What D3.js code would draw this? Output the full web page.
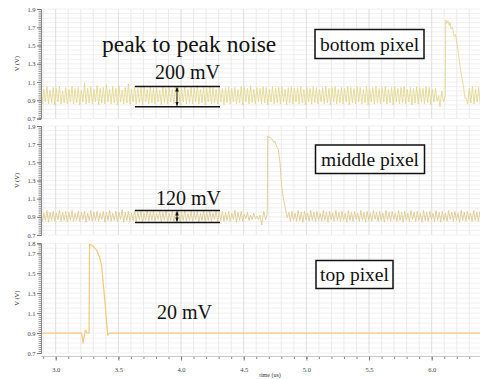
<!DOCTYPE html>
<html>
<head>
<meta charset="utf-8">
<script src="https://cdn.jsdelivr.net/npm/d3@7"></script>
<style>
  body { margin: 0; background: #fff; }
  svg { display: block; }
  .tick text { font-family: "Liberation Serif", "Times New Roman", "DejaVu Serif", serif; fill: #444; }
  .note { font-family: "Liberation Serif", "Times New Roman", "DejaVu Serif", serif; font-size: 20px; fill: #111; }
  .small { font-family: "Liberation Serif", "Times New Roman", "DejaVu Serif", serif; fill: #333; }
</style>
</head>
<body>
<svg id="chart" width="480" height="379"></svg>
<script>
// sample spacing of the noisy traces (us)
const sampleStep = 0.0125;

// bottom pixel: noise before the pulse, from t = 2.88
const bottomNoiseStart = 2.88;
const bottomNoise = [
  1.04,0.86,1.02,0.88,1.05,0.86,1.01,0.87,1.04,0.85,1.03,0.88,1.05,0.86,1.00,0.87,1.04,0.86,1.02,0.88,
  1.05,0.86,1.03,0.87,1.04,0.85,1.01,0.88,1.09,0.86,1.03,0.87,1.05,0.86,1.02,0.88,1.06,0.85,1.03,0.87,
  1.04,0.86,1.07,0.88,1.02,0.86,1.05,0.87,1.03,0.85,1.06,0.88,1.01,0.86,1.04,0.87,1.08,0.86,1.02,0.88,
  1.05,0.86,1.03,0.87,1.04,0.85,1.06,0.88,1.02,0.86,1.05,0.87,1.03,0.86,1.04,0.88,1.01,0.85,1.05,0.87,
  1.03,0.86,1.04,0.88,1.02,0.86,1.05,0.87,1.04,0.85,1.03,0.88,1.05,0.86,1.02,0.87,1.04,0.86,1.03,0.88,
  1.06,0.86,1.02,0.87,1.04,0.85,1.03,0.88,1.05,0.86,1.04,0.87,1.02,0.86,1.05,0.88,1.03,0.85,1.04,0.87,
  1.05,0.86,1.03,0.88,1.04,0.86,1.02,0.87,1.05,0.85,1.04,0.88,1.03,0.86,1.06,0.87,1.02,0.86,1.04,0.88,
  1.03,0.86,1.05,0.87,1.04,0.85,1.02,0.88,1.05,0.86,1.03,0.87,1.04,0.86,1.05,0.88,1.02,0.85,1.04,0.87,
  1.05,0.86,1.03,0.88,1.04,0.86,1.05,0.87,1.02,0.85,1.04,0.88,1.03,0.86,1.05,0.87,1.04,0.86,1.02,0.88,
  1.04,0.86,1.05,0.87,1.03,0.85,1.04,0.88,1.05,0.86,1.02,0.87,1.04,0.86,1.03,0.88,1.05,0.85,1.04,0.87,
  1.03,0.86,1.05,0.88,1.04,0.86,1.02,0.87,1.05,0.85,1.03,0.88,1.04,0.86,1.05,0.87,1.03,0.86,1.04,0.88,
  1.05,0.86,1.02,0.87,1.04,0.85,1.05,0.88,1.03,0.86,1.04,0.87,1.05,0.86,1.02,0.88,1.04,0.85,1.03,0.87,
  1.05,0.86,1.04,0.88,1.03,0.86,1.05,0.87,1.04,0.85,1.02,0.88,1.03,0.89,0.95
];
// bottom pixel: the pulse
const bottomPulseT = [6.066,6.08,6.095,6.108,6.112,6.12,6.13,6.14,6.146,6.155,6.165,6.172,6.18,6.19,6.2,6.21,6.226,6.24,6.252,6.266];
const bottomPulseV = [0.83,1.00,0.88,0.95,1.78,1.74,1.77,1.72,1.75,1.68,1.70,1.66,1.60,1.62,1.53,1.45,1.28,1.15,1.06,0.92];
// bottom pixel: noise after the pulse
const bottomTailStart = 6.275;
const bottomTail = [0.92,0.86,1.03,0.87,1.05,0.86,1.02,0.88,1.04,0.86,1.03];

// middle pixel
const middleNoiseStart = 2.88;
const middleNoise = [
  0.96,0.85,0.94,0.86,0.97,0.84,0.95,0.86,0.96,0.85,0.94,0.87,0.97,0.85,0.95,0.86,0.96,0.84,0.95,0.86,
  0.97,0.85,0.94,0.86,0.96,0.85,0.95,0.87,0.96,0.84,0.94,0.86,0.97,0.85,0.95,0.86,0.96,0.85,0.94,0.87,
  0.96,0.84,0.95,0.86,0.97,0.85,0.94,0.86,0.96,0.85,0.95,0.87,0.98,0.84,0.95,0.86,0.96,0.85,0.94,0.86,
  0.97,0.85,0.95,0.87,0.96,0.84,0.94,0.86,0.97,0.85,0.95,0.86,0.96,0.85,0.94,0.87,0.96,0.84,0.95,0.86,
  0.97,0.85,0.94,0.86,0.96,0.85,0.95,0.87,0.96,0.84,0.95,0.86,0.97,0.85,0.94,0.86,0.96,0.85,0.95,0.87,
  0.96,0.84,0.94,0.86,0.97,0.85,0.95,0.86,0.96,0.85,0.94,0.87,0.97,0.84,0.95,0.86,0.96,0.85,0.95,0.86,
  0.96,0.85,0.94,0.87,0.97,0.84,0.95,0.86,0.96,0.85,0.93,0.88,0.95,0.86,0.92,0.87,0.94,0.88,0.91,0.87,
  0.92
];
const middlePulseT = [4.644,4.66,4.675,4.688,4.692,4.70,4.71,4.718,4.73,4.74,4.75,4.76,4.776,4.79,4.803,4.815,4.83,4.848];
const middlePulseV = [0.81,0.96,0.87,0.93,1.79,1.77,1.78,1.76,1.75,1.72,1.73,1.68,1.64,1.49,1.23,1.12,1.01,0.89];
const middleTailStart = 4.86;
const middleTail = [
  0.95,0.85,0.96,0.86,0.94,0.85,0.97,0.86,0.95,0.84,0.96,0.87,0.94,0.85,0.97,0.86,0.95,0.85,0.96,0.86,
  0.94,0.85,0.97,0.86,0.95,0.84,0.96,0.87,0.94,0.85,0.97,0.86,0.95,0.85,0.96,0.86,0.94,0.84,0.97,0.86,
  0.95,0.85,0.96,0.87,0.94,0.85,0.97,0.86,0.95,0.84,0.96,0.86,0.94,0.85,0.97,0.87,0.95,0.85,0.96,0.86,
  0.94,0.84,0.97,0.86,0.95,0.85,0.96,0.87,0.94,0.85,0.97,0.86,0.95,0.84,0.96,0.86,0.94,0.85,0.97,0.87,
  0.95,0.85,0.96,0.86,0.94,0.84,0.97,0.86,0.95,0.85,0.96,0.87,0.94,0.85,0.97,0.86,0.95,0.84,0.96,0.86,
  0.94,0.85,0.97,0.87,0.95,0.85,0.96,0.86,0.94,0.84,0.97,0.86,0.95,0.85,0.96,0.87,0.94,0.85,0.97,0.86,
  0.95,0.85,0.96,0.86
];

// top pixel: almost flat trace
const topT = [2.88,3.207,3.218,3.236,3.252,3.266,3.270,3.30,3.327,3.353,3.367,3.39,3.415,3.43,6.40];
const topV = [0.90,0.90,0.80,0.93,0.90,0.90,1.79,1.77,1.73,1.65,1.57,1.25,0.88,0.90,0.90];

// axis ticks
const xMajorTicks = [3.0,3.5,4.0,4.5,5.0,5.5,6.0];
const yTicksTall = [0.7,0.9,1.1,1.3,1.5,1.7,1.9];
const yTicksShort = [0.7,0.9,1.1,1.3,1.5,1.7,1.8];

// annotation values (V)
const bottomMarks = [1.05, 0.83];
const middleMarks = [0.97, 0.838];

function samples(start, values) {
  return values.map((v, i) => ({t: start + i * sampleStep, v: v}));
}
function pairs(ts, vs) {
  return ts.map((t, i) => ({t: t, v: vs[i]}));
}

const panels = [
  {top: 9, bottom: 118.5, yMax: 1.9, ticks: yTicksTall, color: "#e2d890", width: 0.9,
   data: samples(bottomNoiseStart, bottomNoise).concat(pairs(bottomPulseT, bottomPulseV), samples(bottomTailStart, bottomTail))},
  {top: 126, bottom: 235, yMax: 1.9, ticks: yTicksTall, color: "#dfcb92", width: 0.9,
   data: samples(middleNoiseStart, middleNoise).concat(pairs(middlePulseT, middlePulseV), samples(middleTailStart, middleTail))},
  {top: 243.3, bottom: 353, yMax: 1.8, ticks: yTicksShort, color: "#f3c97c", width: 1.2,
   data: pairs(topT, topV)}
];

const svg = d3.select("#chart");
const left = 41, right = 480;
const x = d3.scaleLinear().domain([3, 6]).range([55.7, 431.7]);
const xMinor = d3.range(29, 64).map(d => d / 10);

panels.forEach((p, k) => {
  p.y = d3.scaleLinear().domain([0.7, p.yMax]).range([p.bottom, p.top]);
  const g = svg.append("g");

  // grid
  const hLines = d3.range(14, Math.round(p.yMax * 20) + 1).map(d => d / 20);
  g.selectAll(".hg").data(hLines).enter().append("line")
    .attr("x1", left).attr("x2", right)
    .attr("y1", d => p.y(d)).attr("y2", d => p.y(d))
    .attr("stroke", "#ededed").attr("stroke-width", 0.8);
  g.selectAll(".vg").data(xMinor).enter().append("line")
    .attr("x1", d => x(d)).attr("x2", d => x(d))
    .attr("y1", p.top).attr("y2", p.bottom)
    .attr("stroke", d => Math.abs(d * 2 - Math.round(d * 2)) < 1e-6 ? "#dadada" : "#e9e9e9")
    .attr("stroke-width", 0.9);

  // trace
  svg.append("clipPath").attr("id", "clip" + k).append("rect")
    .attr("x", left).attr("y", p.top - 2).attr("width", right - left).attr("height", p.bottom - p.top + 4);
  const line = d3.line().x(d => x(d.t)).y(d => p.y(d.v));
  g.append("path").datum(p.data)
    .attr("clip-path", "url(#clip" + k + ")")
    .attr("d", line).attr("fill", "none")
    .attr("stroke", p.color).attr("stroke-width", p.width).attr("stroke-linejoin", "round");

  // y axis
  const minor = d3.range(35, Math.round(p.yMax * 50) + 1).map(d => d / 50);
  g.append("g").attr("transform", "translate(" + left + ",0)")
    .call(d3.axisLeft(p.y).tickValues(minor).tickSize(2.5).tickFormat(""))
    .call(a => a.selectAll("line,path").attr("stroke", "#999"));
  g.append("g").attr("transform", "translate(" + left + ",0)")
    .call(d3.axisLeft(p.y).tickValues(p.ticks).tickSize(4).tickPadding(1.5).tickFormat(d3.format(".1f")))
    .call(a => a.select(".domain").attr("stroke", "#888"))
    .call(a => a.selectAll("line").attr("stroke", "#777"))
    .call(a => a.selectAll("text").style("font-size", "6.5px"));

  g.append("text").attr("class", "small")
    .attr("transform", "translate(19," + ((p.top + p.bottom) / 2) + ") rotate(-90)")
    .attr("text-anchor", "middle").style("font-size", "6.5px")
    .text("V (V)");
});

// x axis below the last panel
const axisY = 356.5;
svg.append("g").attr("transform", "translate(0," + axisY + ")")
  .call(d3.axisBottom(x).tickValues(xMinor).tickSize(2.5).tickFormat(""))
  .call(a => a.selectAll("line").attr("stroke", "#888"))
  .call(a => a.select(".domain").remove());
svg.append("g").attr("transform", "translate(0," + axisY + ")")
  .call(d3.axisBottom(x).tickValues(xMajorTicks).tickSize(4).tickPadding(7).tickFormat(d3.format(".1f")))
  .call(a => a.selectAll("line").attr("stroke", "#777"))
  .call(a => a.select(".domain").remove())
  .call(a => a.selectAll("text").style("font-size", "6.5px"));
svg.append("line").attr("x1", left).attr("x2", right).attr("y1", axisY).attr("y2", axisY)
  .attr("stroke", "#bbb").attr("stroke-width", 0.8);
svg.append("text").attr("class", "small").attr("x", 270).attr("y", 377).attr("text-anchor", "middle")
  .style("font-size", "6px").text("time (us)");

// annotations
function label(txt, px, py, anchor, size) {
  return svg.append("text").attr("class", "note").attr("x", px).attr("y", py)
    .attr("text-anchor", anchor || "start").style("font-size", (size || 20) + "px").text(txt);
}
function boxLabel(txt, bx, by, bw, bh) {
  svg.append("rect").attr("x", bx).attr("y", by).attr("width", bw).attr("height", bh)
    .attr("fill", "#fff").attr("stroke", "#111").attr("stroke-width", 1.5);
  label(txt, bx + bw / 2, by + bh - 7.5, "middle", 19.5);
}
svg.append("defs").append("marker").attr("id", "head")
  .attr("viewBox", "0 0 10 10").attr("refX", 9).attr("refY", 5)
  .attr("markerWidth", 5).attr("markerHeight", 5).attr("orient", "auto-start-reverse")
  .append("path").attr("d", "M0,1L10,5L0,9Z").attr("fill", "#111");

function spanMarks(vals, yScale, withArrow) {
  const x1 = 135, x2 = 220, xm = 177;
  vals.forEach(v => {
    svg.append("line").attr("x1", x1).attr("x2", x2).attr("y1", yScale(v)).attr("y2", yScale(v))
      .attr("stroke", "#111").attr("stroke-width", 1.5);
  });
  if (withArrow) {
    svg.append("line").attr("x1", xm).attr("x2", xm)
      .attr("y1", yScale(vals[0]) + 1).attr("y2", yScale(vals[1]) - 1)
      .attr("stroke", "#111").attr("stroke-width", 0.9)
      .attr("marker-start", "url(#head)").attr("marker-end", "url(#head)");
  }
}

label("peak to peak noise", 102, 52, "start", 23.5);
label("200 mV", 155, 79);
spanMarks(bottomMarks, panels[0].y, true);
boxLabel("bottom pixel", 315, 29.5, 109, 29);

label("120 mV", 156, 205);
spanMarks(middleMarks, panels[1].y, true);
boxLabel("middle pixel", 315.5, 145, 109, 28.5);

label("20 mV", 157, 319);
boxLabel("top pixel", 316, 260.5, 77, 28);
</script>
</body>
</html>
